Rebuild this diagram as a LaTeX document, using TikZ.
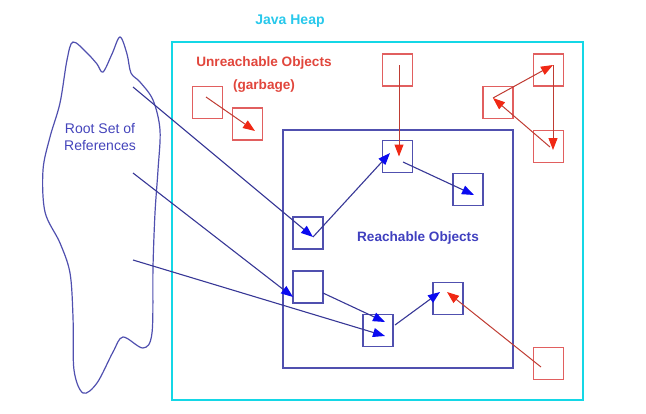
\documentclass[tikz,border=0pt]{standalone}
\usepackage{fontspec}
\setmainfont{Liberation Sans}
\usetikzlibrary{arrows.meta}
\definecolor{heapcyan}{RGB}{20,215,230}
\definecolor{heaptext}{RGB}{40,200,235}
\definecolor{gred}{RGB}{225,70,60}
\definecolor{gboxred}{RGB}{225,95,95}
\definecolor{rblue}{RGB}{80,80,175}
\definecolor{lblue}{RGB}{55,55,150}
\definecolor{tipblue}{RGB}{10,10,240}
\definecolor{tred}{RGB}{240,40,20}
\tikzset{
  obj/.style={draw, line width=1.3pt, minimum width=30pt, minimum height=32pt, inner sep=0pt},
  redobj/.style={obj, draw=gboxred},
  blueobj/.style={obj, draw=rblue},
  redarr/.style={draw=gred!85!black, line width=1pt, -{Triangle[length=12pt,width=9pt,color=tred]}},
  bluearr/.style={draw=lblue, line width=1.1pt, -{Triangle[length=12pt,width=9pt,color=tipblue]}},
  lbl/.style={font=\bfseries\fontsize{13.6}{15}\selectfont, inner sep=0pt}
}
\begin{document}
\begin{tikzpicture}[x=1pt,y=-1pt]
\useasboundingbox (0,0) rectangle (646,413);
% heap
\node[draw=heapcyan, line width=2.2pt, minimum width=411pt, minimum height=358pt, inner sep=0pt] (heap) at (377.5,221) {};
\node[lbl, text=heaptext, font=\bfseries\fontsize{14}{15}\selectfont] (heaplbl) at (290,21) {Java Heap};
% reachable region
\node[draw=rblue, line width=1.3pt, minimum width=230pt, minimum height=238pt, inner sep=0pt] (reach) at (398,249) {};
\node[lbl, text=rblue!80!blue] (reachlbl) at (418,238) {Reachable Objects};
\node[lbl, text=gred] (unreach) at (264,63) {Unreachable Objects};
\node[lbl, text=gred] (garb) at (264,86) {(garbage)};
% cloud
\draw[draw=rblue, line width=1.2pt] plot[smooth cycle, tension=0.55] coordinates {
 (73,42) (87,53) (97,64) (103,72) (112,54) (120,37) (127,54) (131,73) (140,82)
 (153,100) (160,130) (158,170) (155,213) (153,267) (152,333) (143,348)
 (123,337) (113,352) (97,383) (83,393) (74,370) (73,317) (70,273) (60,243)
 (45,212) (43,170) (50,137) (60,103) (67,60)};
\node[font=\fontsize{14}{17}\selectfont, text=rblue!85!blue, align=center, inner sep=0pt] (root) at (100,137) {Root Set of\\References};
% garbage boxes
\node[redobj] (g1) at (207.5,102.5) {};
\node[redobj] (g2) at (247.5,124) {};
\node[redobj] (r1) at (397.5,70) {};
\node[redobj] (t1) at (548.5,70) {};
\node[redobj] (t2) at (498,102.5) {};
\node[redobj] (t3) at (548.5,146.5) {};
\node[redobj] (r2) at (548.5,363.5) {};
% reachable boxes
\node[blueobj] (b1) at (397.5,156.5) {};
\node[blueobj] (b2) at (468,189.5) {};
\node[blueobj] (b3) at (308,233) {};
\node[blueobj] (b4) at (308,287) {};
\node[blueobj] (b5) at (378,330.5) {};
\node[blueobj] (b6) at (448,298.5) {};
% root reference starts
\coordinate (s1) at (133,87);
\coordinate (s2) at (133,173);
\coordinate (s3) at (133,260);
% red arrows
\draw[redarr] ([xshift=-1.5pt,yshift=5.5pt]g1.center) -- ([xshift=7.5pt,yshift=-7pt]g2.center);
\draw[redarr] ([xshift=1.5pt,yshift=5pt]r1.center) -- ([xshift=1.5pt,yshift=0pt]b1.center);
\draw[redarr] ([xshift=1.5pt,yshift=-0.5pt]t3.center) -- ([xshift=-5pt,yshift=4.5pt]t2.center);
\draw[redarr] ([xshift=-5pt,yshift=4.5pt]t2.center) -- ([xshift=4.5pt,yshift=5pt]t1.center);
\draw[redarr] ([xshift=4.5pt,yshift=5pt]t1.center) -- ([xshift=4.5pt,yshift=-3.5pt]t3.center);
\draw[redarr] ([xshift=-7.5pt,yshift=-3.5pt]r2.center) -- ([xshift=-1pt,yshift=6.5pt]b6.center);
% blue arrows
\draw[bluearr] (s1) -- ([xshift=5pt,yshift=-4pt]b3.center);
\draw[bluearr] (s2) -- ([xshift=-15pt,yshift=-10pt]b4.center);
\draw[bluearr] (s3) -- ([xshift=7pt,yshift=-5.5pt]b5.center);
\draw[bluearr] ([xshift=15pt,yshift=-6pt]b4.center) -- ([xshift=7pt,yshift=8.5pt]b5.center);
\draw[bluearr] ([xshift=5pt,yshift=-4pt]b3.center) -- ([xshift=-7.5pt,yshift=3.5pt]b1.center);
\draw[bluearr] ([xshift=5.5pt,yshift=-5.5pt]b1.center) -- ([xshift=6pt,yshift=-5.5pt]b2.center);
\draw[bluearr] ([xshift=17pt,yshift=5.5pt]b5.center) -- ([xshift=-8pt,yshift=6.5pt]b6.center);
\end{tikzpicture}
\end{document}
